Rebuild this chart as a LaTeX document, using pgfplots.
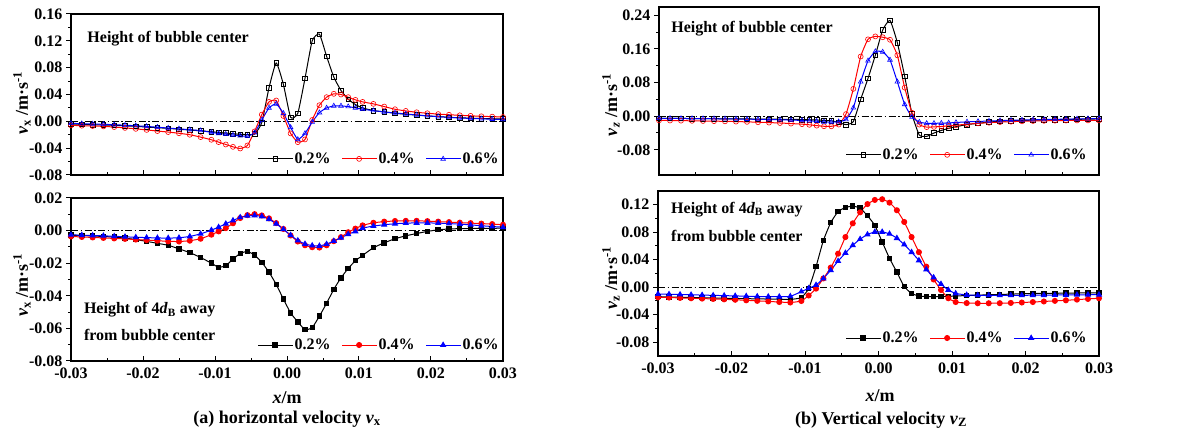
\documentclass[border=0pt]{standalone}
\usepackage{fontspec}
\setmainfont{Liberation Serif}
\usepackage{pgfplots}
\pgfplotsset{compat=1.18}
\usepackage{pgfplotstable}

% columns: x, 0.2%, 0.4%, 0.6%
\pgfplotstableread{
x a b c
-0.0300 -0.0040 -0.0060 -0.0030
-0.0285 -0.0045 -0.0065 -0.0035
-0.0270 -0.0050 -0.0070 -0.0040
-0.0255 -0.0055 -0.0075 -0.0045
-0.0240 -0.0060 -0.0085 -0.0050
-0.0225 -0.0068 -0.0098 -0.0058
-0.0210 -0.0075 -0.0112 -0.0066
-0.0195 -0.0085 -0.0128 -0.0076
-0.0180 -0.0095 -0.0145 -0.0088
-0.0165 -0.0105 -0.0160 -0.0100
-0.0150 -0.0118 -0.0178 -0.0112
-0.0135 -0.0130 -0.0200 -0.0125
-0.0120 -0.0142 -0.0235 -0.0138
-0.0105 -0.0155 -0.0275 -0.0165
-0.0095 -0.0165 -0.0310 -0.0180
-0.0085 -0.0175 -0.0345 -0.0192
-0.0075 -0.0185 -0.0380 -0.0205
-0.0065 -0.0193 -0.0405 -0.0215
-0.0055 -0.0198 -0.0360 -0.0222
-0.0045 -0.0190 -0.0150 -0.0170
-0.0035 -0.0020 0.0100 0.0020
-0.0025 0.0500 0.0290 0.0200
-0.0015 0.0870 0.0310 0.0260
-0.0005 0.0550 0.0080 0.0120
0.0005 0.0060 -0.0180 -0.0090
0.0015 0.0120 -0.0310 -0.0270
0.0025 0.0640 -0.0270 -0.0180
0.0035 0.1200 0.0020 -0.0010
0.0045 0.1300 0.0240 0.0130
0.0055 0.0970 0.0360 0.0200
0.0065 0.0660 0.0410 0.0230
0.0075 0.0460 0.0400 0.0230
0.0085 0.0330 0.0360 0.0220
0.0095 0.0250 0.0320 0.0200
0.0105 0.0200 0.0290 0.0180
0.0120 0.0160 0.0260 0.0160
0.0135 0.0140 0.0220 0.0140
0.0150 0.0120 0.0180 0.0125
0.0165 0.0105 0.0155 0.0110
0.0180 0.0093 0.0135 0.0095
0.0195 0.0080 0.0120 0.0082
0.0210 0.0070 0.0108 0.0070
0.0225 0.0060 0.0098 0.0060
0.0240 0.0053 0.0090 0.0050
0.0255 0.0047 0.0082 0.0043
0.0270 0.0042 0.0075 0.0037
0.0285 0.0038 0.0070 0.0032
0.0300 0.0035 0.0065 0.0028
}\vxcenter

\pgfplotstableread{
x a b c
-0.0300 -0.0028 -0.0036 -0.0026
-0.0285 -0.0030 -0.0039 -0.0028
-0.0270 -0.0033 -0.0042 -0.0030
-0.0255 -0.0036 -0.0045 -0.0032
-0.0240 -0.0040 -0.0048 -0.0035
-0.0225 -0.0046 -0.0051 -0.0038
-0.0210 -0.0055 -0.0055 -0.0041
-0.0195 -0.0066 -0.0058 -0.0043
-0.0180 -0.0078 -0.0062 -0.0045
-0.0165 -0.0090 -0.0066 -0.0046
-0.0150 -0.0112 -0.0067 -0.0044
-0.0135 -0.0135 -0.0062 -0.0036
-0.0120 -0.0165 -0.0050 -0.0020
-0.0105 -0.0200 -0.0025 0.0003
-0.0095 -0.0225 -0.0005 0.0021
-0.0085 -0.0215 0.0015 0.0042
-0.0075 -0.0175 0.0045 0.0062
-0.0065 -0.0140 0.0077 0.0081
-0.0055 -0.0128 0.0095 0.0091
-0.0045 -0.0150 0.0101 0.0093
-0.0035 -0.0195 0.0093 0.0087
-0.0025 -0.0255 0.0075 0.0070
-0.0015 -0.0330 0.0046 0.0042
-0.0005 -0.0420 0.0010 0.0008
0.0005 -0.0505 -0.0030 -0.0028
0.0015 -0.0560 -0.0067 -0.0061
0.0025 -0.0608 -0.0090 -0.0082
0.0035 -0.0595 -0.0102 -0.0092
0.0045 -0.0525 -0.0104 -0.0094
0.0055 -0.0446 -0.0090 -0.0083
0.0065 -0.0360 -0.0065 -0.0064
0.0075 -0.0290 -0.0040 -0.0044
0.0085 -0.0232 -0.0010 -0.0022
0.0095 -0.0185 0.0012 -0.0005
0.0105 -0.0152 0.0032 0.0015
0.0120 -0.0105 0.0048 0.0028
0.0135 -0.0075 0.0055 0.0036
0.0150 -0.0050 0.0059 0.0042
0.0165 -0.0032 0.0060 0.0046
0.0180 -0.0018 0.0060 0.0047
0.0195 -0.0005 0.0058 0.0047
0.0210 0.0005 0.0055 0.0046
0.0225 0.0010 0.0052 0.0043
0.0240 0.0012 0.0049 0.0040
0.0255 0.0013 0.0046 0.0035
0.0270 0.0013 0.0043 0.0030
0.0285 0.0014 0.0040 0.0025
0.0300 0.0015 0.0036 0.0021
}\vxaway

\pgfplotstableread{
x a b c
-0.0300 -0.0050 -0.0100 -0.0050
-0.0285 -0.0052 -0.0103 -0.0052
-0.0270 -0.0054 -0.0106 -0.0054
-0.0255 -0.0056 -0.0110 -0.0056
-0.0240 -0.0058 -0.0114 -0.0058
-0.0225 -0.0060 -0.0118 -0.0060
-0.0210 -0.0062 -0.0123 -0.0063
-0.0195 -0.0064 -0.0128 -0.0066
-0.0180 -0.0066 -0.0135 -0.0070
-0.0165 -0.0068 -0.0143 -0.0075
-0.0150 -0.0070 -0.0152 -0.0080
-0.0135 -0.0073 -0.0162 -0.0086
-0.0120 -0.0076 -0.0175 -0.0093
-0.0105 -0.0080 -0.0190 -0.0100
-0.0095 -0.0085 -0.0205 -0.0110
-0.0085 -0.0090 -0.0225 -0.0120
-0.0075 -0.0100 -0.0240 -0.0135
-0.0065 -0.0110 -0.0240 -0.0140
-0.0055 -0.0150 -0.0200 -0.0130
-0.0045 -0.0200 0.0050 -0.0080
-0.0035 -0.0130 0.0650 0.0200
-0.0025 0.0400 0.1420 0.0820
-0.0015 0.0900 0.1830 0.1320
-0.0005 0.1450 0.1900 0.1540
0.0005 0.2050 0.1880 0.1530
0.0015 0.2280 0.1820 0.1340
0.0025 0.1750 0.1450 0.0820
0.0035 0.0950 0.0680 0.0280
0.0045 0.0050 0.0080 -0.0020
0.0055 -0.0450 -0.0200 -0.0140
0.0065 -0.0480 -0.0260 -0.0170
0.0075 -0.0400 -0.0255 -0.0170
0.0085 -0.0340 -0.0245 -0.0165
0.0095 -0.0290 -0.0230 -0.0160
0.0105 -0.0250 -0.0215 -0.0150
0.0120 -0.0200 -0.0190 -0.0135
0.0135 -0.0170 -0.0170 -0.0125
0.0150 -0.0140 -0.0155 -0.0115
0.0165 -0.0120 -0.0140 -0.0105
0.0180 -0.0110 -0.0130 -0.0098
0.0195 -0.0100 -0.0122 -0.0090
0.0210 -0.0095 -0.0115 -0.0085
0.0225 -0.0090 -0.0110 -0.0080
0.0240 -0.0085 -0.0106 -0.0075
0.0255 -0.0080 -0.0103 -0.0070
0.0270 -0.0075 -0.0101 -0.0065
0.0285 -0.0070 -0.0100 -0.0060
0.0300 -0.0065 -0.0100 -0.0055
}\vzcenter

\pgfplotstableread{
x a b c
-0.0300 -0.0137 -0.0146 -0.0098
-0.0285 -0.0141 -0.0150 -0.0102
-0.0270 -0.0145 -0.0155 -0.0106
-0.0255 -0.0149 -0.0160 -0.0110
-0.0240 -0.0153 -0.0165 -0.0114
-0.0225 -0.0157 -0.0170 -0.0118
-0.0210 -0.0160 -0.0176 -0.0122
-0.0195 -0.0163 -0.0182 -0.0126
-0.0180 -0.0166 -0.0190 -0.0130
-0.0165 -0.0169 -0.0198 -0.0134
-0.0150 -0.0172 -0.0206 -0.0137
-0.0135 -0.0175 -0.0215 -0.0137
-0.0120 -0.0178 -0.0222 -0.0132
-0.0105 -0.0150 -0.0200 -0.0064
-0.0095 -0.0020 -0.0120 -0.0016
-0.0085 0.0300 -0.0020 0.0032
-0.0075 0.0680 0.0128 0.0128
-0.0065 0.0940 0.0286 0.0248
-0.0055 0.1100 0.0488 0.0380
-0.0045 0.1160 0.0730 0.0498
-0.0035 0.1180 0.0930 0.0610
-0.0025 0.1150 0.1090 0.0700
-0.0015 0.1040 0.1210 0.0767
-0.0005 0.0900 0.1270 0.0805
0.0005 0.0660 0.1280 0.0805
0.0015 0.0420 0.1230 0.0776
0.0025 0.0220 0.1120 0.0714
0.0035 0.0010 0.0950 0.0620
0.0045 -0.0090 0.0730 0.0510
0.0055 -0.0127 0.0510 0.0390
0.0065 -0.0135 0.0300 0.0258
0.0075 -0.0137 0.0113 0.0142
0.0085 -0.0136 -0.0040 0.0046
0.0095 -0.0133 -0.0160 -0.0040
0.0105 -0.0128 -0.0215 -0.0090
0.0120 -0.0120 -0.0230 -0.0112
0.0135 -0.0115 -0.0233 -0.0117
0.0150 -0.0110 -0.0233 -0.0118
0.0165 -0.0105 -0.0232 -0.0118
0.0180 -0.0100 -0.0228 -0.0118
0.0195 -0.0095 -0.0222 -0.0117
0.0210 -0.0090 -0.0215 -0.0116
0.0225 -0.0090 -0.0207 -0.0115
0.0240 -0.0088 -0.0198 -0.0113
0.0255 -0.0086 -0.0190 -0.0112
0.0270 -0.0084 -0.0180 -0.0110
0.0285 -0.0082 -0.0170 -0.0109
0.0300 -0.0080 -0.0160 -0.0108
}\vzaway

\newcommand{\fnt}{\fontsize{16}{16}\selectfont\bfseries}
\newcommand{\cfnt}{\fontsize{18}{18}\selectfont\bfseries}

\pgfplotsset{
  panel/.style={
    scale only axis,
    xmin=-0.03, xmax=0.03,
    xtick={-0.03,-0.02,-0.01,0,0.01,0.02,0.03},
    minor x tick num=1, minor y tick num=1,
    xtick pos=left, ytick pos=left,
    xtick align=inside, ytick align=outside,
    major tick length=5pt, minor tick length=3pt,
    every tick/.style={black, line width=1pt},
    axis line style={line width=1.2pt},
    scaled ticks=false,
    ticklabel style={font=\fnt},
    xticklabel style={yshift=-3pt},
    /pgf/number format/fixed,
    /pgf/number format/fixed zerofill,
    /pgf/number format/precision=2,
    /pgf/number format/assume math mode=true,
    legend columns=3,
    legend style={draw=none, fill=none, inner sep=0pt, font=\fnt,
      /tikz/every even column/.append style={column sep=9pt}},
    legend image code/.code={\draw[mark repeat=2,mark phase=2]
      plot coordinates {(0pt,0pt) (17pt,0pt) (34pt,0pt)};},
  },
  zeroline/.style={black, line width=0.8pt, dash pattern=on 7pt off 2.5pt on 1.5pt off 2.5pt, forget plot},
  sa/.style={black, line width=1pt, smooth, tension=0.3, mark=square, mark size=2.3pt, mark options={solid, fill=white, line width=0.6pt}},
  sb/.style={red, line width=1pt, smooth, tension=0.3, mark=o, mark size=2.5pt, mark options={solid, fill=white, line width=0.6pt}},
  sc/.style={blue, line width=1pt, smooth, tension=0.3, mark=triangle, mark size=2.7pt, mark options={solid, fill=white, line width=0.6pt}},
  fa/.style={black, line width=1pt, smooth, tension=0.3, mark=square*, mark size=2.2pt, mark options={solid, fill=black}},
  fb/.style={red, line width=1pt, smooth, tension=0.3, mark=*, mark size=2.5pt, mark options={solid, fill=red}},
  fc/.style={blue, line width=1pt, smooth, tension=0.3, mark=triangle*, mark size=2.7pt, mark options={solid, fill=blue}},
}

\begin{document}
\begin{tikzpicture}[x=1pt,y=1pt]
\path[use as bounding box] (0,0) rectangle (1196,430);

% (a) top: height of bubble center
\begin{axis}[panel, at={(71pt,255pt)}, anchor=south west,
  width=432pt, height=161pt,
  ymin=-0.08, ymax=0.16, ytick={-0.08,-0.04,0,0.04,0.08,0.12,0.16},
  xticklabels={},
  legend style={at={(rel axis cs:0.995,0.1)}, anchor=east}]
\addplot[zeroline] coordinates {(-0.03,0) (0.03,0)};
\addplot[sa] table[x=x,y=a] {\vxcenter};
\addplot[sb] table[x=x,y=b] {\vxcenter};
\addplot[sc] table[x=x,y=c] {\vxcenter};
\legend{0.2\%,0.4\%,0.6\%}
\node[anchor=west, font=\fnt] at (rel axis cs:0.03,0.85) {Height of bubble center};
\end{axis}

% (a) bottom: 4dB away
\begin{axis}[panel, at={(71pt,69pt)}, anchor=south west,
  width=432pt, height=163pt,
  ymin=-0.08, ymax=0.02, ytick={-0.08,-0.06,-0.04,-0.02,0,0.02},
  legend style={at={(rel axis cs:0.995,0.098)}, anchor=east}]
\addplot[zeroline] coordinates {(-0.03,0) (0.03,0)};
\addplot[fa] table[x=x,y=a] {\vxaway};
\addplot[fb] table[x=x,y=b] {\vxaway};
\addplot[fc] table[x=x,y=c] {\vxaway};
\legend{0.2\%,0.4\%,0.6\%}
\node[anchor=west, font=\fnt] at (rel axis cs:0.022,0.313) {Height of 4\textit{d}\textsubscript{B} away};
\node[anchor=west, font=\fnt] at (rel axis cs:0.022,0.16) {from bubble center};
\end{axis}

% (b) top
\begin{axis}[panel, at={(659pt,255pt)}, anchor=south west,
  width=440pt, height=168pt,
  ymin=-0.14, ymax=0.26, ytick={-0.08,0,0.08,0.16,0.24},
  xticklabels={},
  legend style={at={(rel axis cs:0.977,0.12)}, anchor=east}]
\addplot[zeroline] coordinates {(-0.03,0) (0.03,0)};
\addplot[sa] table[x=x,y=a] {\vzcenter};
\addplot[sb] table[x=x,y=b] {\vzcenter};
\addplot[sc] table[x=x,y=c] {\vzcenter};
\legend{0.2\%,0.4\%,0.6\%}
\node[anchor=west, font=\fnt] at (rel axis cs:0.02,0.87) {Height of bubble center};
\end{axis}

% (b) bottom
\begin{axis}[panel, at={(658pt,74pt)}, anchor=south west,
  width=441pt, height=165pt,
  ymin=-0.10, ymax=0.14, ytick={-0.08,-0.04,0,0.04,0.08,0.12},
  legend style={at={(rel axis cs:0.977,0.109)}, anchor=east}]
\addplot[zeroline] coordinates {(-0.03,0) (0.03,0)};
\addplot[fa] table[x=x,y=a] {\vzaway};
\addplot[fb] table[x=x,y=b] {\vzaway};
\addplot[fc] table[x=x,y=c] {\vzaway};
\legend{0.2\%,0.4\%,0.6\%}
\node[anchor=west, font=\fnt] at (rel axis cs:0.022,0.89) {Height of 4\textit{d}\textsubscript{B} away};
\node[anchor=west, font=\fnt] at (rel axis cs:0.022,0.73) {from bubble center};
\end{axis}

% axis labels and captions
\node[rotate=90, font=\cfnt] at (22,327) {\textit{v}\textsubscript{x} /m·s\textsuperscript{-1}};
\node[rotate=90, font=\cfnt] at (22,145) {\textit{v}\textsubscript{x} /m·s\textsuperscript{-1}};
\node[rotate=90, font=\cfnt] at (611,325) {\textit{v}\textsubscript{\textit{z}} /m·s\textsuperscript{-1}};
\node[rotate=90, font=\cfnt] at (611,152) {\textit{v}\textsubscript{z} /m·s\textsuperscript{-1}};
\node[font=\cfnt] at (287,32) {\textit{x}/m};
\node[font=\cfnt] at (880,34) {\textit{x}/m};
\node[font=\cfnt] at (287,11) {(a) horizontal velocity \textit{v}\textsubscript{x}};
\node[font=\cfnt] at (881,10) {(b) Vertical velocity \textit{v}\textsubscript{Z}};
\end{tikzpicture}
\end{document}
